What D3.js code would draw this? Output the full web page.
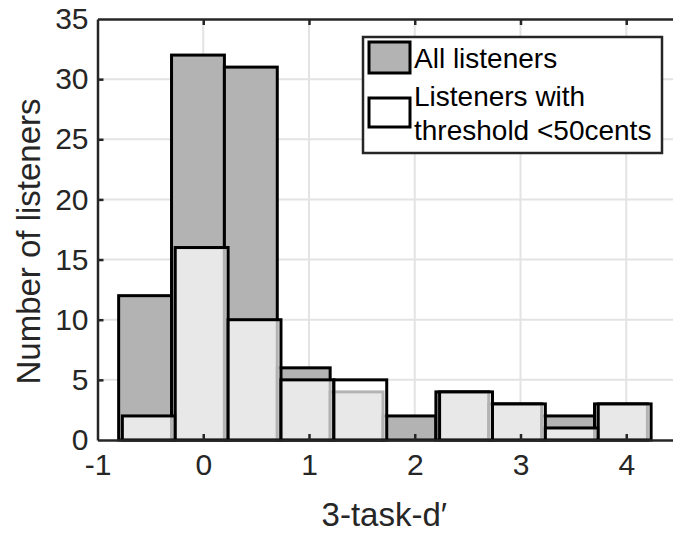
<!DOCTYPE html>
<html>
<head>
<meta charset="utf-8">
<script src="https://cdn.jsdelivr.net/npm/d3@7"></script>
<style>
  body { margin: 0; background: #fff; }
  svg { display: block; font-family: "Liberation Sans", Arial, sans-serif; }
</style>
</head>
<body>
<svg id="chart"></svg>
<script>
// histogram counts
const allListeners = [12, 32, 31, 6, 4, 2, 4, 3, 2, 3];
const goodListeners = [2, 16, 10, 5, 5, 0, 4, 3, 1, 3];
// first bin edge of each histogram and bin width (d' units)
const allStart = -0.8;
const goodStart = -0.765;
const binWidth = 0.5;
const xTicks = [-1, 0, 1, 2, 3, 4];
const yTicks = [0, 5, 10, 15, 20, 25, 30, 35];
const legendLabels = [["All listeners"], ["Listeners with", "threshold <50cents"]];

const svgWidth = 673, svgHeight = 533;
const marginLeft = 97.5, marginTop = 19, plotBottom = 440;

const svg = d3.select("#chart")
  .attr("width", svgWidth)
  .attr("height", svgHeight);

const x = d3.scaleLinear().domain([-1, 4.5]).range([marginLeft, marginLeft + 5.5 * 105.75]);
const y = d3.scaleLinear().domain([0, 35]).range([plotBottom, marginTop]);

// grid
svg.append("g")
  .selectAll("line")
  .data(xTicks.slice(1))
  .join("line")
  .attr("x1", d => x(d)).attr("x2", d => x(d))
  .attr("y1", y(0)).attr("y2", y(35))
  .attr("stroke", "#e3e3e3").attr("stroke-width", 2);
svg.append("g")
  .selectAll("line")
  .data(yTicks.slice(1, -1))
  .join("line")
  .attr("x1", x(-1)).attr("x2", x(4.5))
  .attr("y1", d => y(d)).attr("y2", d => y(d))
  .attr("stroke", "#e3e3e3").attr("stroke-width", 2);

const toBins = (counts, start) => counts.map((c, i) => ({x0: start + i * binWidth, x1: start + (i + 1) * binWidth, n: c}));

// all listeners (grey)
svg.append("g")
  .selectAll("rect")
  .data(toBins(allListeners, allStart).filter(d => d.n > 0))
  .join("rect")
  .attr("x", d => x(d.x0))
  .attr("width", d => x(d.x1) - x(d.x0))
  .attr("y", d => y(d.n))
  .attr("height", d => y(0) - y(d.n))
  .attr("fill", "#b3b3b3")
  .attr("stroke", "#000")
  .attr("stroke-width", 3);

// listeners under threshold (translucent white)
svg.append("g")
  .selectAll("rect")
  .data(toBins(goodListeners, goodStart).filter(d => d.n > 0))
  .join("rect")
  .attr("x", d => x(d.x0))
  .attr("width", d => x(d.x1) - x(d.x0))
  .attr("y", d => y(d.n))
  .attr("height", d => y(0) - y(d.n))
  .attr("fill", "#fff")
  .attr("fill-opacity", 0.7)
  .attr("stroke", "#000")
  .attr("stroke-width", 3);

// axes
const axisColor = "#262626";
const xAxis = svg.append("g")
  .attr("transform", `translate(0,${plotBottom})`)
  .call(d3.axisBottom(x).tickValues(xTicks).tickFormat(d => String(d)).tickSizeInner(-6).tickSizeOuter(0).tickPadding(14));
const xAxisTop = svg.append("g")
  .attr("transform", `translate(0,${marginTop})`)
  .call(d3.axisTop(x).tickValues(xTicks).tickFormat("").tickSizeInner(-6).tickSizeOuter(0));
const yAxis = svg.append("g")
  .attr("transform", `translate(${marginLeft},0)`)
  .call(d3.axisLeft(y).tickValues(yTicks).tickSizeInner(-6).tickSizeOuter(0).tickPadding(9));

[xAxis, xAxisTop, yAxis].forEach(g => {
  g.select(".domain").attr("stroke", axisColor).attr("stroke-width", 2.5);
  g.selectAll(".tick line").attr("stroke", axisColor).attr("stroke-width", 2.5);
  g.selectAll(".tick text")
    .attr("fill", axisColor)
    .style("font-size", "30px")
    .style("font-family", "Liberation Sans, Arial, sans-serif");
});
xAxis.selectAll(".tick text").attr("dy", "0.71em");
// ticks sitting on the box corners are hidden
xAxis.selectAll(".tick line").filter(d => d === -1).remove();
xAxisTop.selectAll(".tick line").filter(d => d === -1).remove();
yAxis.selectAll(".tick line").filter(d => d === 0 || d === 35).remove();

// axis labels
svg.append("text")
  .attr("x", (x(-1) + x(4.5)) / 2 - 4)
  .attr("y", 526)
  .attr("text-anchor", "middle")
  .attr("fill", axisColor)
  .style("font-size", "33px")
  .text("3-task-d\u2032");

svg.append("text")
  .attr("transform", `translate(40,${(y(0) + y(35)) / 2 + 12}) rotate(-90)`)
  .attr("text-anchor", "middle")
  .attr("fill", axisColor)
  .style("font-size", "33px")
  .text("Number of listeners");

// legend
const legend = svg.append("g").attr("transform", "translate(363,37)");
legend.append("rect")
  .attr("width", 299).attr("height", 116)
  .attr("fill", "#fff")
  .attr("stroke", axisColor).attr("stroke-width", 2.5);
legend.append("rect")
  .attr("x", 6).attr("y", 5).attr("width", 41).attr("height", 31)
  .attr("fill", "#b3b3b3").attr("stroke", "#000").attr("stroke-width", 3);
legend.append("rect")
  .attr("x", 6).attr("y", 61).attr("width", 41).attr("height", 29)
  .attr("fill", "#fff").attr("stroke", "#000").attr("stroke-width", 3);
const legendY = [[31], [69, 103]];
legendLabels.forEach((lines, i) => {
  lines.forEach((t, j) => {
    legend.append("text")
      .attr("x", 51).attr("y", legendY[i][j])
      .attr("fill", "#000")
      .style("font-size", "28px")
      .text(t);
  });
});
</script>
</body>
</html>
